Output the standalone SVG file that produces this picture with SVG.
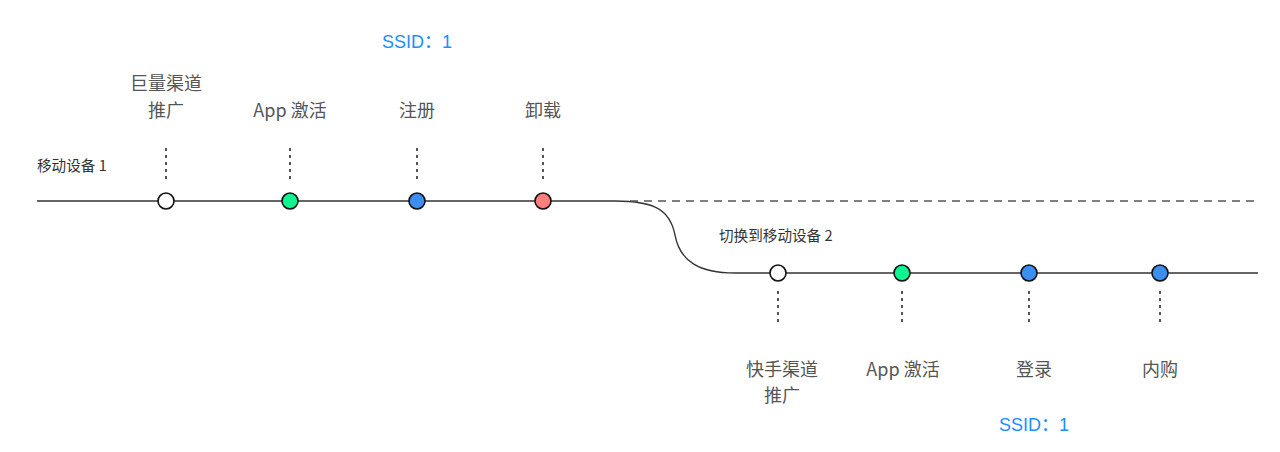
<svg xmlns="http://www.w3.org/2000/svg" width="1280" height="452" viewBox="0 0 1280 452">
<style>
.lbl{font-family:"Noto Sans CJK SC","Liberation Sans",sans-serif;font-size:18px;fill:#555;text-anchor:middle}
.sm{font-family:"Noto Sans CJK SC","Liberation Sans",sans-serif;font-size:14.6px;fill:#333}
.ss{font-family:"Liberation Sans","Noto Sans CJK SC",sans-serif;font-size:18px;fill:#1890ff;text-anchor:middle}
.tick{stroke:#555;stroke-width:2;stroke-dasharray:3 4}
.dot{stroke:#111;stroke-width:1.6}
</style>
<rect width="1280" height="452" fill="#fff"/>
<g id="connectors" fill="none">
<path d="M37,201 H615 C655,201 670,210 675,235 C680,262 700,273 735,273 H1258" stroke="#333" stroke-width="1.3"/>
<path d="M630,201 H1255" stroke="#555" stroke-width="1.3" stroke-dasharray="8 6"/>
<line class="tick" x1="166" y1="148" x2="166" y2="182"/>
<line class="tick" x1="290" y1="148" x2="290" y2="182"/>
<line class="tick" x1="417" y1="148" x2="417" y2="182"/>
<line class="tick" x1="543" y1="148" x2="543" y2="182"/>
<line class="tick" x1="778" y1="291" x2="778" y2="325"/>
<line class="tick" x1="902" y1="291" x2="902" y2="325"/>
<line class="tick" x1="1029" y1="291" x2="1029" y2="325"/>
<line class="tick" x1="1160" y1="291" x2="1160" y2="325"/>
</g>
<g id="device1"><text class="sm" x="37" y="171">移动设备 1</text></g>
<g id="device2"><text class="sm" x="719" y="241">切换到移动设备 2</text></g>
<g id="n1"><circle class="dot" cx="166" cy="201" r="8" fill="#fff"/><text class="lbl" x="166" y="90">巨量渠道</text><text class="lbl" x="166" y="117">推广</text></g>
<g id="n2"><circle class="dot" cx="290" cy="201" r="8" fill="#0cf590"/><text class="lbl" x="290" y="117">App 激活</text></g>
<g id="n3"><circle class="dot" cx="417" cy="201" r="8" fill="#3b8ff0"/><text class="lbl" x="417" y="117">注册</text><text class="ss" x="417" y="48">SSID：1</text></g>
<g id="n4"><circle class="dot" cx="543" cy="201" r="8" fill="#ff7f7f"/><text class="lbl" x="543" y="117">卸载</text></g>
<g id="m1"><circle class="dot" cx="778" cy="273" r="8" fill="#fff"/><text class="lbl" x="782" y="376">快手渠道</text><text class="lbl" x="782" y="402">推广</text></g>
<g id="m2"><circle class="dot" cx="902" cy="273" r="8" fill="#0cf590"/><text class="lbl" x="903" y="376">App 激活</text></g>
<g id="m3"><circle class="dot" cx="1029" cy="273" r="8" fill="#3b8ff0"/><text class="lbl" x="1034" y="376">登录</text><text class="ss" x="1034" y="431">SSID：1</text></g>
<g id="m4"><circle class="dot" cx="1160" cy="273" r="8" fill="#3b8ff0"/><text class="lbl" x="1160" y="376">内购</text></g>
</svg>
